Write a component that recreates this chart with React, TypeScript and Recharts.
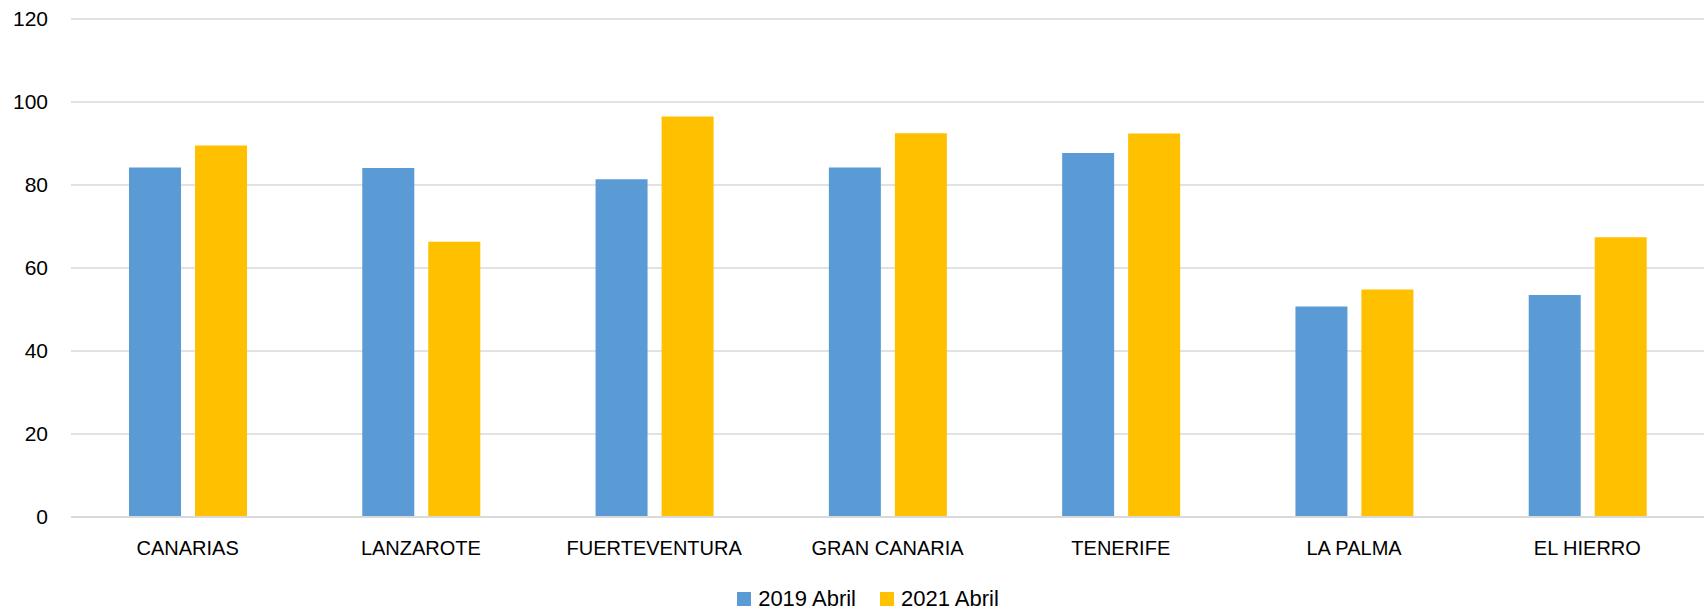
import React from 'react'
import { BarChart, Bar, XAxis, YAxis, CartesianGrid, Legend } from 'recharts'

const islands = ['CANARIAS', 'LANZAROTE', 'FUERTEVENTURA', 'GRAN CANARIA', 'TENERIFE', 'LA PALMA', 'EL HIERRO']
const abril2019 = [84.2, 84.1, 81.4, 84.2, 87.7, 50.7, 53.5]
const abril2021 = [89.5, 66.3, 96.5, 92.5, 92.4, 54.8, 67.4]
const yTicks = [0, 20, 40, 60, 80, 100, 120]

const data = islands.map((name, i) => ({
  name,
  y2019: abril2019[i],
  y2021: abril2021[i],
}))

const FONT = '"Liberation Sans", Arial, sans-serif'

function LegendBox(props: any) {
  const { payload = [] } = props
  return (
    <div
      style={{
        display: 'flex',
        justifyContent: 'center',
        alignItems: 'center',
        height: 24,
        paddingTop: 3,
        fontFamily: FONT,
        fontSize: 22,
        color: '#000',
        paddingLeft: 32,
      }}
    >
      {payload.map((p: any, i: number) => (
        <div key={i} style={{ display: 'flex', alignItems: 'center', marginLeft: i ? 24 : 0 }}>
          <span style={{ width: 14, height: 14, background: p.color, display: 'inline-block', marginRight: 7 }} />
          <span>{p.value}</span>
        </div>
      ))}
    </div>
  )
}

export default function App() {
  return (
    <div style={{ position: 'absolute', left: 0, top: 0, background: '#fff' }}>
      <BarChart
        width={1705}
        height={611}
        data={data}
        margin={{ top: 19, right: 1, bottom: 0, left: 0 }}
        barSize={52}
        barGap={14}
      >
        <CartesianGrid vertical={false} stroke="#d9d9d9" strokeWidth={1.5} />
        <XAxis
          dataKey="name"
          height={67}
          tickLine={false}
          tickSize={0}
          tickMargin={24}
          axisLine={{ stroke: '#d9d9d9', strokeWidth: 2 }}
          tick={{ fill: '#000', fontSize: 20, fontFamily: FONT }}
          interval={0}
        />
        <YAxis
          width={71}
          domain={[0, 120]}
          ticks={yTicks}
          tickLine={false}
          tickSize={0}
          tickMargin={23}
          axisLine={false}
          tick={{ fill: '#000', fontSize: 21, fontFamily: FONT }}
        />
        <Legend verticalAlign="bottom" content={<LegendBox />} />
        <Bar dataKey="y2019" name="2019 Abril" fill="#5B9BD5" isAnimationActive={false} />
        <Bar dataKey="y2021" name="2021 Abril" fill="#FFC000" isAnimationActive={false} />
      </BarChart>
    </div>
  )
}
